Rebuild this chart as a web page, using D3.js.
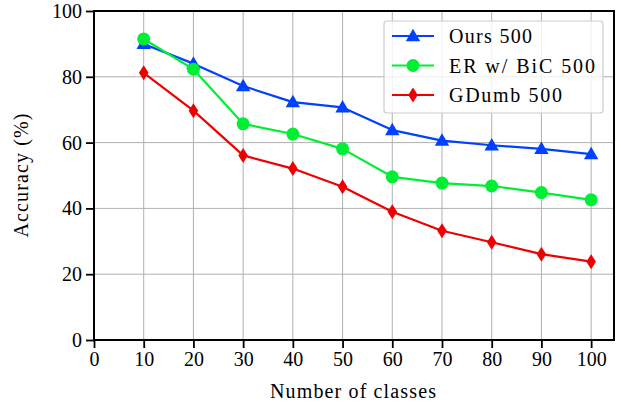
<!DOCTYPE html>
<html><head><meta charset="utf-8">
<script src="https://cdn.jsdelivr.net/npm/d3@7"></script>
<style>body{margin:0;background:#fff}svg{display:block}text{font-family:"Liberation Serif","Times New Roman",serif;fill:#000}</style>
</head><body><svg id="c" width="621" height="407"></svg>
<script>
const classes = [10,20,30,40,50,60,70,80,90,100];
const ours = [90.0,84.0,77.2,72.3,70.7,63.8,60.6,59.2,58.1,56.5];
const erbic = [91.5,82.3,65.7,62.6,58.1,49.6,47.7,46.8,44.8,42.6];
const gdumb = [81.2,69.7,56.1,52.1,46.6,39.0,33.2,29.7,26.1,23.8];
const seriesNames = ["Ours 500","ER w/ BiC 500","GDumb 500"];
const xTicks = [0,10,20,30,40,50,60,70,80,90,100];
const yTicks = [0,20,40,60,80,100];
const xLabel = "Number of classes", yLabel = "Accuracy (%)";

const colors = ["#0040ff","#00ee33","#ee0000"];
const legendWidths = [83,146,113];
const L=94,R=614,T=11,B=340;
const svg=d3.select("#c");
const x=d3.scaleLinear().domain([0,104.6]).range([L,R]);
const y=d3.scaleLinear().domain([0,100]).range([B,T]);

// grid
svg.append("g").selectAll("line").data(xTicks.slice(1)).join("line")
 .attr("x1",d=>x(d)).attr("x2",d=>x(d)).attr("y1",T).attr("y2",B).attr("stroke","#b0b0b0").attr("stroke-width",1);
svg.append("g").selectAll("line").data(yTicks.slice(1)).join("line")
 .attr("y1",d=>y(d)).attr("y2",d=>y(d)).attr("x1",L).attr("x2",R).attr("stroke","#b0b0b0").attr("stroke-width",1);

function marker(g,i,cx,cy){
  const c=colors[i];
  if(i===0){
    g.append("path").attr("d",d3.symbol(d3.symbolTriangle,90)()).attr("transform",`translate(${cx},${cy+1})`).attr("fill",c);
  } else if(i===1){
    g.append("circle").attr("cx",cx).attr("cy",cy).attr("r",6.5).attr("fill",c);
  } else {
    g.append("path").attr("d","M0,-7.5L4.8,0L0,7.5L-4.8,0Z").attr("transform",`translate(${cx},${cy})`).attr("fill",c);
  }
}
const all=[ours,erbic,gdumb];
all.forEach((vals,i)=>{
  const g=svg.append("g");
  const data=classes.map((c,j)=>[c,vals[j]]);
  g.append("path").datum(data).attr("d",d3.line().x(d=>x(d[0])).y(d=>y(d[1])))
   .attr("fill","none").attr("stroke",colors[i]).attr("stroke-width",2.2).attr("stroke-linejoin","round");
  data.forEach(d=>marker(g,i,x(d[0]),y(d[1])));
});

// axes
const xa=svg.append("g").attr("transform",`translate(0,${B})`).call(d3.axisBottom(x).tickValues(xTicks).tickSize(8).tickPadding(4));
const ya=svg.append("g").attr("transform",`translate(${L},0)`).call(d3.axisLeft(y).tickValues(yTicks).tickSize(8).tickPadding(4));
[xa,ya].forEach(a=>{a.select(".domain").remove();a.selectAll("line").attr("stroke","#000").attr("stroke-width",1.8);
  a.selectAll("text").attr("font-size",20).attr("font-family","Liberation Serif");});
svg.append("rect").attr("x",L).attr("y",T).attr("width",R-L).attr("height",B-T).attr("fill","none").attr("stroke","#000").attr("stroke-width",2);

svg.append("text").attr("x",353).attr("y",398).attr("text-anchor","middle").attr("font-size",20)
  .attr("textLength",166).attr("lengthAdjust","spacing").text(xLabel);
svg.append("text").attr("transform",`translate(28,${(T+B)/2}) rotate(-90)`).attr("text-anchor","middle").attr("font-size",20)
  .attr("textLength",124).attr("lengthAdjust","spacing").text(yLabel);

// legend
const lg=svg.append("g");
lg.append("rect").attr("x",384).attr("y",21).attr("width",219).attr("height",92).attr("rx",3)
 .attr("fill","rgba(255,255,255,0.8)").attr("stroke","#cccccc").attr("stroke-width",1.2);
const rows=[36,65.5,95];
seriesNames.forEach((n,i)=>{
  lg.append("line").attr("x1",392).attr("x2",434).attr("y1",rows[i]).attr("y2",rows[i]).attr("stroke",colors[i]).attr("stroke-width",2.2);
  marker(lg,i,413,rows[i]);
  lg.append("text").attr("x",449).attr("y",rows[i]+7).attr("font-size",20)
    .attr("textLength",legendWidths[i]).attr("lengthAdjust","spacing").text(n);
});
</script></body></html>
